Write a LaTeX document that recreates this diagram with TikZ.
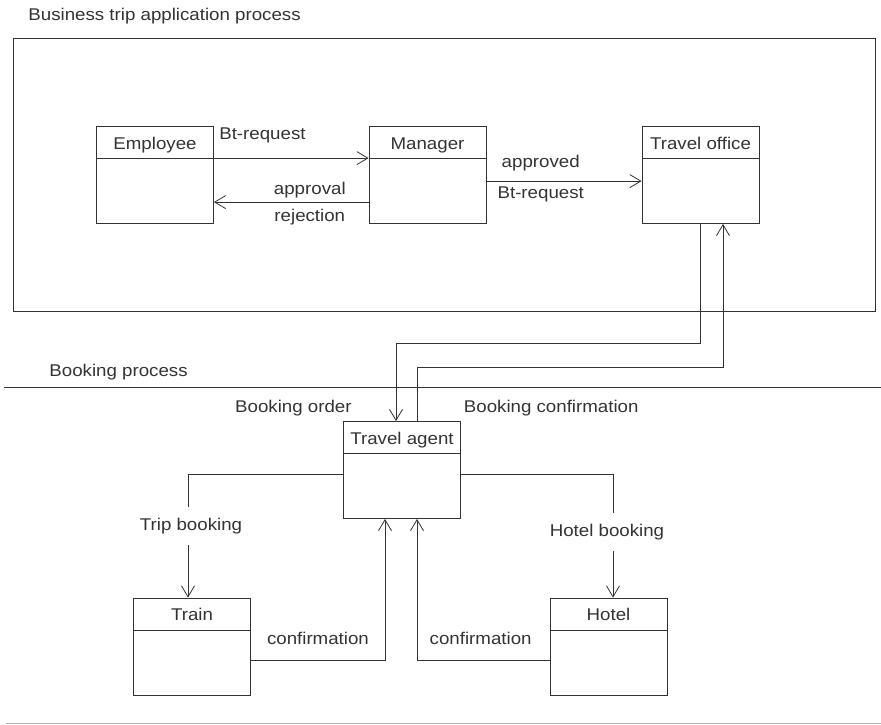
\documentclass[tikz,border=0pt]{standalone}
\usepackage{fontspec}
\setmainfont{Liberation Sans}[FakeStretch=1.1]
\usetikzlibrary{arrows.meta}

\begin{document}
\begin{tikzpicture}
[x=1pt,y=-1pt,
 font=\fontsize{17}{20}\selectfont,
 color=black!80,
 line width=0.8pt,
 classbox/.style={draw,minimum width=117pt,minimum height=97pt,inner sep=0pt,
   label={[anchor=base,yshift=-23pt]north:#1},
   path picture={\draw ([yshift=-32pt]path picture bounding box.north west) -- ([yshift=-32pt]path picture bounding box.north east);}},
 flow/.style={-{Straight Barb[length=11pt,width=13pt]}},
 tag/.style={inner sep=0pt},
 cut/.style={fill=white,inner xsep=2pt,inner ysep=11pt}]

\useasboundingbox (0,0) rectangle (881,725);
\draw (13.5,38) rectangle (875,311);
\draw (4,387) -- (881,387);
\draw[black!30] (6,723.5) -- (881,723.5);

\node (title) at (28,20.5) [tag,anchor=base west] {Business trip application process};
\node (book) at (49,376) [tag,anchor=base west] {Booking process};

\node (emp) at (155,175) [classbox=Employee] {};
\node (mgr) at (427.5,175) [classbox=Manager] {};
\node (tro) at (700.5,175) [classbox=Travel office] {};
\node (agent) at (402,470) [classbox=Travel agent] {};
\node (train) at (192,646.5) [classbox=Train] {};
\node (hotel) at (608.5,646.5) [classbox=Hotel] {};

\draw[flow] ([yshift=-32pt]emp.north east) -- ([yshift=-32pt]mgr.north west)
  node[tag,pos=0,anchor=base west,xshift=5pt,yshift=19pt] {Bt-request};
\draw[flow] ([yshift=-76pt]mgr.north west) -- ([yshift=-76pt]emp.north east)
  node[tag,pos=0.38,above=4pt] {approval}
  node[tag,pos=0.38,below=7pt] {rejection};
\draw[flow] ([yshift=-55pt]mgr.north east) -- ([yshift=-55pt]tro.north west)
  node[tag,pos=0.35,above=10pt] {approved}
  node[tag,pos=0.35,below=5pt] {Bt-request};

\draw[flow] (tro.south) -- ++(0,119) -| ([xshift=-6pt]agent.north)
  node[tag,pos=1,anchor=base east,xshift=-44pt,yshift=8.5pt] {Booking order};
\draw[flow] ([xshift=15.5pt]agent.north)
  node[tag,anchor=base west,xshift=46pt,yshift=8.5pt] {Booking confirmation}
  -- ++(0,-54) -| ([xshift=22.5pt]tro.south);

\draw[flow] ([yshift=-4.5pt]agent.west) -| ([xshift=-4pt]train.north)
  node[cut,pos=0.71,xshift=3pt] {Trip booking};
\draw[flow] ([yshift=-4.5pt]agent.east) -| ([xshift=4.5pt]hotel.north)
  node[cut,pos=0.735,xshift=-6pt] {Hotel booking};

\draw[flow] ([yshift=-13.5pt]train.east) -| ([xshift=-17pt]agent.south)
  node[tag,pos=0.25,above=15pt] {confirmation};
\draw[flow] ([yshift=-13.5pt]hotel.west) -| ([xshift=15pt]agent.south)
  node[tag,pos=0.26,above=15pt] {confirmation};
\end{tikzpicture}
\end{document}
